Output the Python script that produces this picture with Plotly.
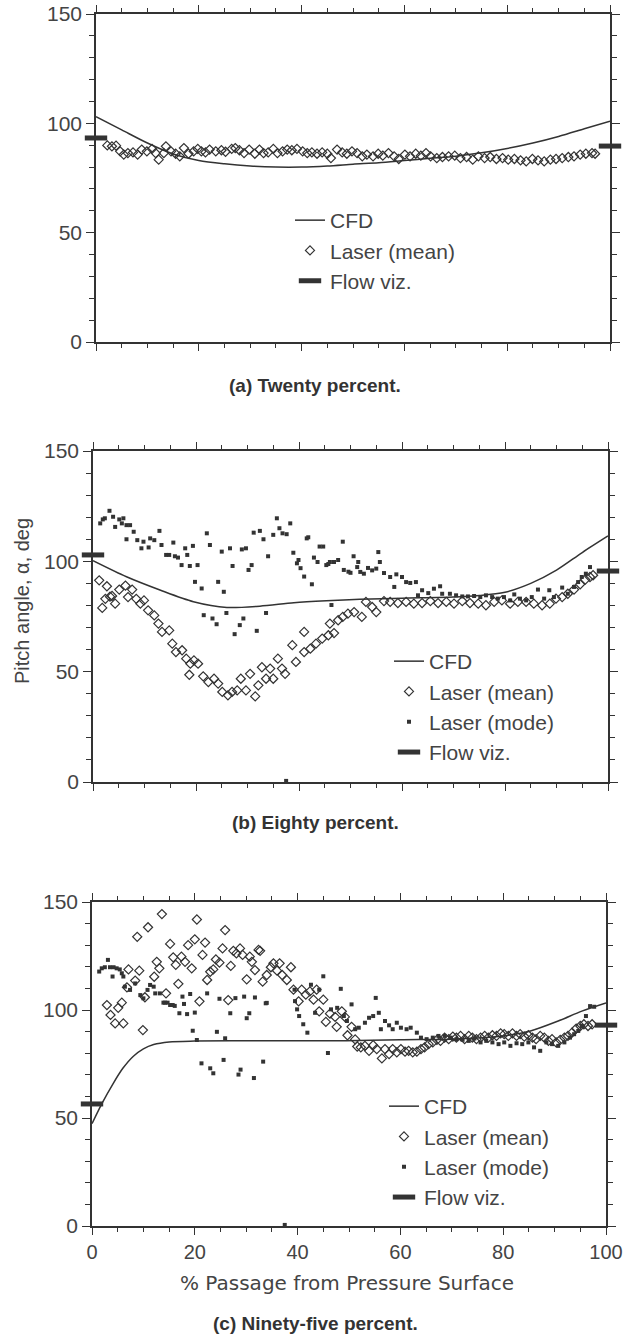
import plotly.graph_objects as go

# ---------------- data ----------------
# (a) Twenty percent
a_cfd_x = [0, 5, 10, 15, 20, 25, 30, 35, 40, 45, 50, 55, 60, 65, 70, 75, 80, 85, 90, 95, 100]
a_cfd_y = [103, 97, 91, 86, 83, 81.5, 80.5, 80, 80, 80.5, 81.3, 82, 83, 84, 85, 86.5, 88.5, 91, 94, 97.5, 101]
a_mean_x = [2.2, 3.1, 3.9, 4.7, 5.4, 6.2, 7.2, 8.1, 8.9, 9.9, 10.9, 11.6, 12.2, 13.2, 13.6, 14.6, 15.5,
            16.3, 17.1, 18.0, 19.0, 19.8, 20.5, 21.3, 22.1, 23.3, 24.4, 25.2, 26.4, 27.1, 27.9, 28.8,
            29.8, 30.9, 31.8, 32.6, 33.5, 34.5, 35.3, 36.3, 37.2, 38.1, 39.1, 40.2, 41.1, 42.0, 43.0,
            44.0, 45.0, 45.7, 46.9, 47.9, 48.8, 49.8, 50.8, 51.8, 52.7, 53.9, 54.9, 55.8, 56.9, 58.0,
            58.9, 60.1, 61.1, 62.2, 63.2, 64.2, 65.1, 66.3, 67.4, 68.6, 69.8, 70.9, 72.1, 73.3, 74.4,
            75.6, 76.7, 77.9, 79.1, 80.2, 81.4, 82.6, 83.7, 84.9, 86.0, 87.2, 88.4, 89.5, 90.7, 91.9,
            93.0, 94.2, 95.3, 96.5, 97.1]
a_mean_y = [89.9, 89.5, 89.8, 87.2, 85.7, 86.4, 86.7, 85.7, 88.0, 87.2, 88.3, 86.4, 83.4, 86.4, 89.5, 87.2, 86.1,
            84.9, 88.7, 86.1, 87.2, 88.3, 87.2, 86.7, 88.0, 87.2, 87.7, 87.0, 88.3, 88.7, 87.7, 86.4,
            88.0, 86.1, 88.0, 86.4, 86.7, 88.3, 86.4, 87.2, 88.0, 87.7, 88.3, 87.2, 86.4, 86.7, 86.1,
            86.7, 86.1, 84.1, 88.0, 86.7, 86.1, 87.2, 86.4, 84.9, 85.7, 84.9, 86.1, 85.2, 86.4, 84.9,
            83.7, 85.7, 84.9, 86.1, 85.2, 86.4, 84.9, 84.1, 84.6, 84.9, 85.2, 84.1, 84.6, 83.4, 84.9,
            84.1, 84.6, 83.7, 84.1, 83.4, 83.7, 83.1, 82.6, 83.7, 83.1, 82.6, 83.4, 83.7, 84.1, 84.6,
            84.9, 85.7, 86.1, 86.4, 86.1]
a_flow_y = [93.3, 89.6]

# (b) Eighty percent
b_cfd_x = [0, 6.5, 13, 19.5, 26, 32.4, 39, 45.3, 51.8, 60, 70, 75, 80, 85, 90, 95, 100]
b_cfd_y = [100.3, 93, 87, 81.7, 79.1, 79.7, 81.2, 82.1, 82.8, 83.3, 83.8, 84.5, 86, 90, 96, 104, 111.5]
b_mean_x = [1.2, 1.8, 2.4, 2.7, 3.3, 3.7, 4.3, 5.1, 6.3, 6.8, 7.6, 8.4, 9.2, 9.9, 10.7, 11.9, 12.7,
            13.4, 14.8, 15.4, 16.1, 17.3, 18.1, 18.7, 18.9, 19.6, 20.4, 21.4, 22.4, 23.5, 24.3, 25.1,
            26.2, 27.0, 28.0, 28.7, 29.7, 30.5, 31.5, 32.1, 32.8, 33.6, 34.4, 35.0, 35.9, 36.7, 37.3,
            38.7, 39.4, 41.0, 41.0, 42.2, 43.3, 44.5, 45.7, 46.0, 46.8, 47.6, 48.5, 49.5, 50.7, 52.2,
            53.0, 54.2, 55.0, 56.5, 57.7, 59.2, 60.8, 62.3, 63.9, 65.5, 67.0, 68.6, 70.1, 71.7, 73.2,
            74.8, 76.3, 77.9, 79.4, 81.0, 82.5, 84.1, 85.6, 87.2, 88.7, 89.9, 91.1, 92.2, 93.4, 94.6,
            95.6, 96.5, 97.1]
b_mean_y = [91.4, 78.9, 83.0, 88.7, 84.0, 84.3, 80.8, 87.2, 89.0, 83.8, 87.2, 83.0, 80.8, 82.3, 77.8, 75.5, 71.8,
            68.0, 68.7, 62.7, 58.9, 59.7, 55.9, 48.6, 53.6, 55.1, 53.6, 47.9, 45.3, 46.8, 44.6, 40.8,
            39.3, 40.8, 41.5, 46.8, 41.5, 49.0, 38.8, 43.8, 52.0, 46.8, 51.4, 46.8, 55.9, 51.4, 49.0,
            62.0, 54.4, 58.9, 68.0, 60.4, 62.7, 65.0, 66.5, 71.8, 67.5, 73.3, 74.8, 76.3, 77.0, 74.8,
            81.6, 79.3, 77.0, 82.0, 81.6, 81.1, 81.6, 80.8, 81.1, 82.0, 81.1, 81.6, 80.8, 82.0, 81.1,
            80.8, 80.1, 81.6, 82.3, 80.8, 81.6, 81.6, 80.8, 80.1, 80.8, 83.1, 83.8, 85.3, 87.2, 89.6,
            91.7, 92.9, 93.7]
b_mode_x = [1.4, 1.9, 2.3, 3.2, 3.9, 4.3, 5.1, 5.6, 5.9, 6.5, 6.5, 7.2, 7.9, 8.6, 9.4, 9.8, 10.8, 11.1,
            11.9, 12.9, 13.3, 14.2, 14.8, 15.6, 15.9, 16.5, 17.2, 17.9, 18.3, 18.8, 19.4, 19.8, 20.3,
            21.1, 21.5, 22.1, 22.7, 23.2, 24.0, 24.3, 25.0, 25.4, 25.9, 26.6, 27.1, 27.5, 28.5, 28.9,
            29.2, 29.7, 30.2, 30.8, 31.2, 31.8, 32.4, 33.1, 33.6, 34.0, 35.0, 35.7, 36.2, 36.8, 37.5,
            37.6, 38.3, 38.9, 39.6, 39.9, 40.3, 41.0, 41.5, 41.8, 42.5, 42.9, 43.6, 44.0, 44.7, 45.3,
            45.7, 46.0, 46.3, 46.8, 47.6, 48.5, 48.7, 49.6, 50.0, 50.6, 51.3, 51.5, 51.9, 52.6, 53.4,
            54.2, 55.0, 55.4, 55.7, 56.5, 57.7, 58.5, 58.9, 60.0, 60.8, 61.6, 62.7, 63.1, 63.9, 65.1,
            66.2, 67.4, 67.8, 69.3, 70.5, 71.7, 72.8, 74.0, 75.2, 76.3, 77.5, 78.6, 79.8, 81.0, 81.8,
            82.9, 84.1, 85.2, 86.4, 87.6, 88.6, 89.5, 91.1, 92.2, 93.4, 94.2, 94.9, 95.7, 96.5]
b_mode_y = [117.2, 119.0, 119.5, 122.9, 120.2, 115.6, 119.0, 117.2, 119.5, 116.4, 110.0, 116.4, 113.4, 109.6,
            105.9, 108.9, 106.3, 110.4, 109.6, 113.8, 107.4, 102.9, 102.9, 108.5, 102.3, 101.7, 98.3,
            105.9, 102.9, 97.9, 107.0, 90.7, 98.3, 87.7, 75.6, 112.7, 107.4, 74.1, 71.5, 90.7, 104.4,
            86.2, 76.6, 105.9, 97.9, 67.0, 71.1, 105.4, 74.1, 105.9, 96.1, 98.3, 113.0, 68.5, 113.8,
            110.0, 76.6, 102.3, 112.0, 119.5, 115.0, 112.7, 0.5, 112.3, 117.2, 103.9, 99.1, 100.6, 96.9,
            93.1, 110.4, 110.9, 89.6, 101.7, 99.7, 106.7, 106.7, 98.3, 98.8, 99.7, 80.2, 99.7, 100.6,
            108.9, 96.1, 95.3, 94.8, 102.3, 97.4, 99.7, 95.2, 94.4, 97.0, 95.9, 96.7, 104.2, 99.7, 94.7,
            92.9, 88.4, 94.1, 92.9, 90.6, 90.2, 90.6, 84.6, 86.9, 85.6, 87.6, 88.7, 85.3, 85.3, 84.6,
            84.1, 84.1, 84.3, 83.8, 84.6, 83.8, 83.1, 83.8, 82.3, 85.0, 83.1, 82.3, 83.8, 87.2, 83.1,
            86.9, 83.8, 88.1, 85.3, 88.4, 90.6, 92.9, 94.4, 97.4]
b_flow_y = [102.9, 95.6]

# (c) Ninety-five percent
c_cfd_x = [0, 2, 4, 6, 8, 10, 12, 15, 20, 32.7, 49.5, 60, 70, 75, 80, 85.3, 90.7, 95.3, 100]
c_cfd_y = [47.4, 57, 65.5, 73, 78.5, 82, 84, 85.2, 85.6, 85.8, 85.8, 86.2, 86.5, 87, 88, 90.3, 94.9, 99.5, 103.3]
c_mean_x = [2.9, 3.6, 4.5, 5.1, 5.8, 6.1, 6.8, 7.1, 8.4, 8.8, 9.2, 9.9, 10.3, 10.9, 12.1, 12.6, 13.1,
            13.6, 14.4, 15.2, 15.8, 16.3, 16.8, 17.4, 18.1, 18.7, 19.4, 20.0, 20.4, 20.9, 21.5, 22.0,
            22.4, 23.0, 23.6, 24.1, 24.8, 25.4, 25.9, 26.5, 27.0, 27.5, 28.1, 28.8, 29.3, 30.1, 30.7,
            31.1, 31.7, 32.4, 32.7, 33.2, 34.0, 34.8, 35.3, 36.0, 36.5, 37.0, 37.9, 38.7, 39.2, 40.2,
            40.8, 41.6, 42.4, 43.1, 43.7, 44.2, 45.0, 45.5, 46.3, 47.3, 47.6, 48.6, 49.2, 49.7, 50.5,
            51.2, 51.6, 52.3, 53.1, 53.9, 54.7, 55.4, 56.4, 57.0, 57.8, 58.5, 59.3, 60.1, 60.9, 61.6,
            62.4, 63.2, 64.0, 64.7, 65.5, 66.3, 67.1, 67.8, 68.6, 69.4, 70.2, 70.9, 71.7, 72.5, 73.3,
            74.0, 74.8, 75.6, 76.4, 77.1, 77.9, 78.7, 79.5, 80.2, 81.0, 81.8, 82.6, 83.3, 84.1, 84.9,
            85.7, 86.4, 87.2, 88.0, 88.8, 89.5, 90.3, 91.1, 91.9, 92.6, 93.4, 94.2, 95.0, 95.7, 96.5,
            97.3]
c_mean_y = [102.3, 97.7, 93.8, 101.0, 103.4, 93.8, 110.5, 118.8, 113.6, 133.9, 118.2, 90.7, 105.9, 138.3,
            115.4, 122.3, 119.3, 144.4, 107.7, 130.6, 124.4, 120.9, 112.1, 124.7, 122.3, 130.0, 119.3,
            132.7, 141.9, 104.0, 125.5, 131.2, 113.9, 117.7, 118.8, 123.4, 121.9, 128.5, 137.0, 104.6,
            120.4, 127.4, 126.2, 128.5, 125.5, 114.2, 124.7, 122.3, 118.5, 127.8, 127.4, 113.1, 116.2,
            119.8, 121.6, 118.2, 121.6, 116.2, 113.9, 119.8, 109.4, 104.0, 109.4, 107.1, 108.6, 104.8,
            109.4, 99.4, 104.8, 94.5, 98.3, 96.8, 92.2, 99.4, 96.8, 88.3, 92.2, 86.4, 83.1, 82.7, 83.4,
            81.1, 83.7, 81.9, 77.6, 81.9, 79.6, 81.9, 80.4, 81.9, 80.7, 81.1, 80.4, 80.7, 81.9, 82.7,
            84.2, 85.0, 86.2, 85.7, 87.2, 86.5, 87.7, 87.2, 88.0, 86.5, 88.0, 87.2, 86.5, 87.2, 88.0,
            87.2, 88.3, 88.0, 89.2, 88.8, 88.0, 89.2, 88.0, 88.8, 87.7, 88.3, 87.2, 86.5, 88.0, 87.2,
            85.7, 86.5, 85.0, 86.2, 87.2, 88.0, 89.5, 91.4, 92.6, 93.4, 92.6, 93.4]
c_mode_x = [1.4, 1.9, 2.5, 3.1, 3.5, 4.0, 4.2, 4.8, 5.4, 5.8, 6.1, 6.4, 7.4, 8.4, 9.4, 10.0, 10.8, 11.3,
            12.0, 12.3, 13.2, 13.9, 14.2, 14.7, 15.2, 15.7, 16.1, 17.0, 17.6, 17.9, 18.5, 19.1, 19.6,
            20.0, 20.4, 21.3, 22.4, 23.0, 23.6, 24.3, 24.8, 25.6, 25.9, 26.9, 27.9, 28.5, 28.9, 29.6,
            30.1, 30.6, 31.5, 31.7, 33.3, 33.8, 34.0, 37.5, 39.4, 39.5, 39.9, 40.3, 41.1, 41.9, 42.6,
            43.4, 44.2, 45.0, 45.9, 46.5, 47.7, 48.4, 49.0, 49.6, 50.5, 51.2, 51.9, 53.1, 53.9, 54.7,
            55.2, 55.8, 56.2, 57.0, 57.8, 58.5, 59.3, 60.1, 61.2, 62.0, 63.2, 64.0, 65.1, 66.3, 67.4,
            68.6, 69.8, 70.9, 72.1, 73.3, 74.4, 75.6, 76.7, 77.9, 79.1, 80.2, 81.4, 82.6, 83.7, 84.9,
            86.0, 87.2, 88.4, 89.5, 90.7, 91.9, 93.0, 93.8, 94.6, 95.3, 96.1, 96.9, 97.7]
c_mode_y = [117.8, 119.3, 119.8, 123.2, 119.8, 115.5, 119.8, 119.3, 118.8, 117.0, 115.5, 110.8, 109.3, 112.3,
            106.9, 105.4, 109.3, 111.6, 110.8, 107.7, 107.7, 103.4, 103.4, 103.4, 102.3, 102.3, 101.9,
            98.5, 106.2, 102.8, 98.1, 107.4, 90.4, 98.8, 86.1, 75.3, 107.7, 73.0, 70.7, 89.9, 105.2,
            76.9, 86.9, 98.5, 105.5, 70.1, 72.4, 106.2, 96.2, 98.5, 68.5, 105.8, 76.1, 103.1, 103.3, 0.5,
            109.4, 104.1, 100.3, 97.2, 93.4, 89.5, 111.7, 98.7, 109.4, 115.6, 80.1, 100.3, 101.0, 109.8,
            97.2, 94.9, 102.6, 91.1, 91.8, 94.1, 96.4, 97.2, 105.6, 98.7, 91.1, 94.9, 92.9, 91.1, 94.1,
            91.8, 91.1, 91.8, 89.5, 87.2, 86.5, 87.2, 88.0, 88.0, 87.2, 86.5, 86.2, 85.7, 86.8, 85.0,
            85.7, 85.0, 84.2, 85.0, 83.4, 84.6, 84.2, 85.0, 82.7, 81.1, 85.0, 84.2, 83.4, 85.0, 87.2,
            88.8, 90.3, 92.6, 97.2, 101.8, 101.5]
c_flow_y = [56.5, 93.0]

flow_x = [0, 100]
x_ticks = [0, 20, 40, 60, 80, 100]
y_ticks = [0, 50, 100, 150]
captions = ['(a) Twenty percent.', '(b) Eighty percent.', '(c) Ninety-five percent.']

# ---------------- styling / layout ----------------
W, H = 625, 1343
INK = '#333333'
TXT = '#444444'
SANS = 'Liberation Sans, Arial, sans-serif'

# plot-area boxes in pixels: left, right, top, bottom
boxes = [(96, 610, 14, 342), (93, 608, 451, 782), (92, 606, 902, 1226)]
legend_pos = [(290, 200), (389, 641), (384, 1086)]
caption_y = [385, 822, 1323]

panels = [
    dict(cfd=(a_cfd_x, a_cfd_y), mean=(a_mean_x, a_mean_y), mode=None, flow=a_flow_y),
    dict(cfd=(b_cfd_x, b_cfd_y), mean=(b_mean_x, b_mean_y), mode=(b_mode_x, b_mode_y), flow=b_flow_y),
    dict(cfd=(c_cfd_x, c_cfd_y), mean=(c_mean_x, c_mean_y), mode=(c_mode_x, c_mode_y), flow=c_flow_y),
]

fig = go.Figure()
layout = {}
annotations = []

for i, p in enumerate(panels):
    sfx = '' if i == 0 else str(i + 1)
    common = dict(xaxis='x' + sfx, yaxis='y' + sfx, legend='legend' + sfx, cliponaxis=False)

    fig.add_trace(go.Scatter(x=p['cfd'][0], y=p['cfd'][1], mode='lines', name='CFD',
                             line=dict(color=INK, width=1.5, shape='spline', smoothing=0.8), **common))
    fig.add_trace(go.Scatter(x=p['mean'][0], y=p['mean'][1], mode='markers', name='Laser (mean)',
                             marker=dict(symbol='diamond-open', size=7, color=INK,
                                         line=dict(width=1.2, color=INK)), **common))
    if p['mode'] is not None:
        fig.add_trace(go.Scatter(x=p['mode'][0], y=p['mode'][1], mode='markers', name='Laser (mode)',
                                 marker=dict(symbol='square', size=4, color=INK), **common))
    fig.add_trace(go.Scatter(x=flow_x, y=p['flow'], mode='markers', name='Flow viz.',
                             marker=dict(symbol='line-ew', size=16, color=INK,
                                         line=dict(width=5, color=INK)), **common))

    l, r, t, b = boxes[i]
    layout['xaxis' + sfx] = dict(
        domain=[l / W, r / W], range=[0, 100], anchor='y' + sfx, automargin=False,
        showline=True, linecolor=INK, linewidth=1.5, mirror='ticks',
        ticks='outside', ticklen=7, tickwidth=1.3, tickcolor=INK,
        tickvals=x_ticks, ticktext=[str(v) for v in x_ticks],
        minor=dict(dtick=5, ticklen=4, ticks='outside', tickcolor=INK, tickwidth=1.2),
        showgrid=False, zeroline=False, showticklabels=(i == 2), ticklabeloverflow='allow',
        tickfont=dict(family=SANS, size=20, color=TXT),
    )
    layout['yaxis' + sfx] = dict(
        domain=[1 - b / H, 1 - t / H], range=[0, 150], anchor='x' + sfx, automargin=False,
        showline=True, linecolor=INK, linewidth=1.5, mirror='ticks',
        ticks='outside', ticklen=8, tickwidth=1.3, tickcolor=INK,
        tickvals=y_ticks, ticktext=[str(v) for v in y_ticks],
        minor=dict(dtick=10, ticklen=5, ticks='outside', tickcolor=INK, tickwidth=1.2),
        showgrid=False, zeroline=False, ticklabeloverflow='allow',
        tickfont=dict(family=SANS, size=21, color=TXT),
    )
    lx, ly = legend_pos[i]
    layout['legend' + sfx] = dict(
        x=lx / W, y=1 - ly / H, xanchor='left', yanchor='top',
        bgcolor='rgba(0,0,0,0)', font=dict(family=SANS, size=21, color=TXT),
        itemclick=False, tracegroupgap=0,
    )
    annotations.append(dict(text=captions[i], x=315 / W, y=1 - caption_y[i] / H,
                            xref='paper', yref='paper', showarrow=False, xanchor='center',
                            yanchor='middle', font=dict(family=SANS, size=19, color=INK, weight='bold')))

annotations.append(dict(text='Pitch angle, α, deg', x=22 / W, y=1 - 601 / H, xref='paper', yref='paper',
                        showarrow=False, textangle=-90, xanchor='center', yanchor='middle',
                        font=dict(family=SANS, size=20, color=TXT)))
annotations.append(dict(text='% Passage from Pressure Surface', x=347 / W, y=1 - 1283 / H,
                        xref='paper', yref='paper', showarrow=False, xanchor='center', yanchor='middle',
                        font=dict(family='DejaVu Sans', size=20, color=TXT)))

fig.update_layout(
    width=W, height=H, autosize=False,
    margin=dict(l=0, r=0, t=0, b=0, autoexpand=False),
    paper_bgcolor='white', plot_bgcolor='white',
    showlegend=True, annotations=annotations,
    **layout,
)

# the page body has a default 8px margin; drop it so the figure sits at the window origin
fig.write_html('out.html', config={'displayModeBar': False},
               post_script="document.body.style.margin='0';")
